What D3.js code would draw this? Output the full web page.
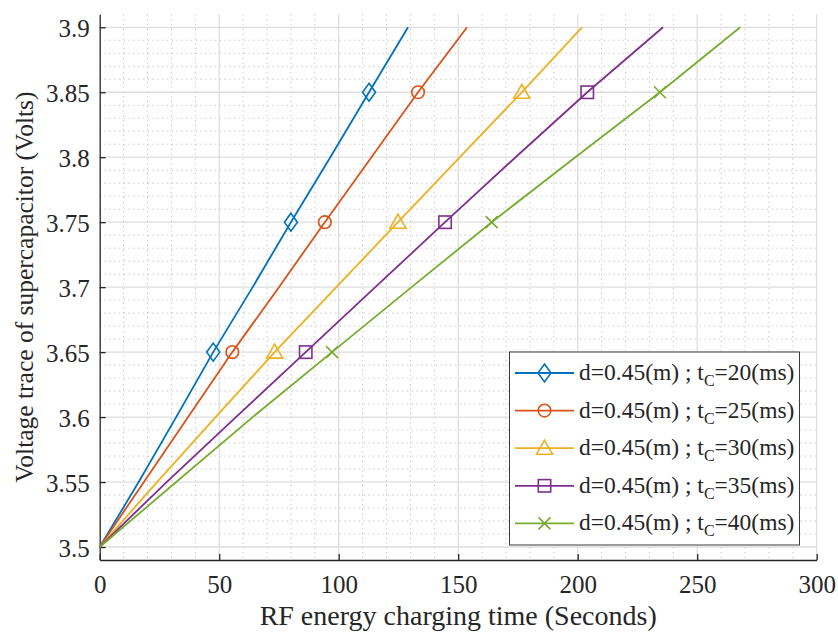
<!DOCTYPE html>
<html>
<head>
<meta charset="utf-8">
<script src="https://cdn.jsdelivr.net/npm/d3@7"></script>
<style>
  body { margin: 0; background: #fff; }
  text { font-family: "Liberation Serif", "DejaVu Serif", serif; fill: #262626; }
</style>
</head>
<body>
<div id="chart"></div>
<script>
// voltage levels shared by every series
const voltage = [3.5, 3.55, 3.6, 3.65, 3.7, 3.75, 3.8, 3.85, 3.9];
// charging time (s), one array per t_C
const timeTc20 = [0, 16.3, 32, 47.5, 64, 80, 96.5, 112.7, 129];
const timeTc25 = [0, 18.5, 37, 55.5, 75, 94.2, 113.7, 133.2, 153.7];
const timeTc30 = [0, 24, 48.5, 73.2, 99, 124.8, 150.7, 176.6, 201.8];
const timeTc35 = [0, 28, 57, 86.2, 115.3, 144.5, 174, 204, 235.7];
const timeTc40 = [0, 32, 64, 97.2, 130.5, 164, 199, 234.4, 268];
const tcValues = ['20', '25', '30', '35', '40'];
const markerIdx = [3, 5, 7];

const xTicks = [0, 50, 100, 150, 200, 250, 300];
const yTicks = [3.5, 3.55, 3.6, 3.65, 3.7, 3.75, 3.8, 3.85, 3.9];

const series = [
  { t: timeTc20, color: '#0072BD', marker: 'diamond' },
  { t: timeTc25, color: '#D95319', marker: 'circle' },
  { t: timeTc30, color: '#EDB120', marker: 'triangle' },
  { t: timeTc35, color: '#7E2F8E', marker: 'square' },
  { t: timeTc40, color: '#77AC30', marker: 'cross' }
];

const width = 838, height = 635;
const pLeft = 99.7, pRight = 816.7, pTop = 14.3, pBottom = 560;
const serif = '"Liberation Serif", "Times New Roman", serif';

const svg = d3.select('#chart').append('svg')
  .attr('width', width)
  .attr('height', height);

const x = d3.scaleLinear().domain([0, 300]).range([pLeft, pRight]);
const y = d3.scaleLinear().domain([3.49, 3.91]).range([pBottom, pTop]);

// grid, minor dotted first
const grid = svg.append('g');
grid.selectAll('.minx')
  .data(d3.range(10, 300, 10).filter(d => d % 50 !== 0))
  .enter().append('line')
  .attr('x1', d => x(d)).attr('x2', d => x(d))
  .attr('y1', pTop).attr('y2', pBottom)
  .attr('stroke', '#c4c4c4').attr('stroke-width', 1)
  .attr('stroke-dasharray', '1.3,3.5');
grid.selectAll('.miny')
  .data(d3.range(1, 42).map(i => +(3.49 + i * 0.01).toFixed(2)).filter(d => Math.round(d * 100) % 5 !== 0))
  .enter().append('line')
  .attr('x1', pLeft).attr('x2', pRight)
  .attr('y1', d => y(d)).attr('y2', d => y(d))
  .attr('stroke', '#c4c4c4').attr('stroke-width', 1)
  .attr('stroke-dasharray', '1.3,3.5');
grid.selectAll('.majx')
  .data(xTicks.slice(1))
  .enter().append('line')
  .attr('x1', d => x(d)).attr('x2', d => x(d))
  .attr('y1', pTop).attr('y2', pBottom)
  .attr('stroke', '#dedede').attr('stroke-width', 1.3);
grid.selectAll('.majy')
  .data(yTicks)
  .enter().append('line')
  .attr('x1', pLeft).attr('x2', pRight)
  .attr('y1', d => y(d)).attr('y2', d => y(d))
  .attr('stroke', '#dedede').attr('stroke-width', 1.3);

// axes
const xAxis = d3.axisBottom(x).tickValues(xTicks).tickSizeInner(-6).tickSizeOuter(0);
const yAxis = d3.axisLeft(y).tickValues(yTicks).tickSizeInner(-6).tickSizeOuter(0)
  .tickFormat(d => d3.format('')(d));

const gx = svg.append('g').attr('transform', `translate(0,${pBottom})`).call(xAxis);
const gy = svg.append('g').attr('transform', `translate(${pLeft},0)`).call(yAxis);
[gx, gy].forEach(g => {
  g.attr('font-family', null).attr('font-size', null);
  g.select('.domain').attr('stroke', '#262626').attr('stroke-width', 1.3);
  g.selectAll('.tick line').attr('stroke', '#262626').attr('stroke-width', 1.3);
  g.selectAll('.tick text')
    .style('font-family', serif).style('font-size', '25px').style('fill', '#262626');
});
gx.selectAll('.tick text').attr('y', 33).attr('dy', 0);
gy.selectAll('.tick text').attr('x', -10).attr('dy', '0.37em');

svg.append('text')
  .attr('x', (pLeft + pRight) / 2).attr('y', 625)
  .attr('text-anchor', 'middle')
  .style('font-family', serif).style('font-size', '28px')
  .text('RF energy charging time (Seconds)');
svg.append('text')
  .attr('transform', `translate(33,${(pTop + pBottom) / 2}) rotate(-90)`)
  .attr('text-anchor', 'middle')
  .style('font-family', serif).style('font-size', '25.5px')
  .text('Voltage trace of supercapacitor (Volts)');

// marker shapes
function drawMarker(g, type, cx, cy, color) {
  const s = 6;
  if (type === 'diamond') {
    g.append('path').attr('d', `M${cx},${cy - 9}L${cx + 6.5},${cy}L${cx},${cy + 9}L${cx - 6.5},${cy}Z`)
      .attr('fill', 'none').attr('stroke', color).attr('stroke-width', 1.6);
  } else if (type === 'circle') {
    g.append('circle').attr('cx', cx).attr('cy', cy).attr('r', 6.3)
      .attr('fill', 'none').attr('stroke', color).attr('stroke-width', 1.6);
  } else if (type === 'triangle') {
    g.append('path').attr('d', `M${cx},${cy - 8}L${cx + 8},${cy + 6}L${cx - 8},${cy + 6}Z`)
      .attr('fill', 'none').attr('stroke', color).attr('stroke-width', 1.6);
  } else if (type === 'square') {
    g.append('rect').attr('x', cx - 6.2).attr('y', cy - 6.2).attr('width', 12.4).attr('height', 12.4)
      .attr('fill', 'none').attr('stroke', color).attr('stroke-width', 1.6);
  } else {
    g.append('path').attr('d', `M${cx - s},${cy - s}L${cx + s},${cy + s}M${cx - s},${cy + s}L${cx + s},${cy - s}`)
      .attr('fill', 'none').attr('stroke', color).attr('stroke-width', 1.6);
  }
}

const line = d3.line()
  .x(d => x(d[0]))
  .y(d => y(d[1]));

const plot = svg.append('g');
series.forEach(s => {
  const pts = s.t.map((t, i) => [t, voltage[i]]);
  plot.append('path')
    .attr('d', line(pts))
    .attr('fill', 'none')
    .attr('stroke', s.color)
    .attr('stroke-width', 1.8);
  markerIdx.forEach(i => drawMarker(plot, s.marker, x(pts[i][0]), y(pts[i][1]), s.color));
});

// legend
const lg = svg.append('g');
lg.append('rect')
  .attr('x', 509.5).attr('y', 352).attr('width', 290).attr('height', 193)
  .attr('fill', '#fff').attr('stroke', '#3a3a3a').attr('stroke-width', 1);
series.forEach((s, i) => {
  const cy = 373 + i * 37.6;
  lg.append('line').attr('x1', 515).attr('x2', 574).attr('y1', cy).attr('y2', cy)
    .attr('stroke', s.color).attr('stroke-width', 1.8);
  drawMarker(lg, s.marker, 544.5, cy, s.color);
  const t = lg.append('text').attr('x', 579).attr('y', cy + 7)
    .style('font-family', serif).style('font-size', '23.5px');
  t.append('tspan').text('d=0.45(m) ; t');
  t.append('tspan').style('font-size', '16px').attr('dy', 6).text('C');
  t.append('tspan').attr('dy', -6).text(`=${tcValues[i]}(ms)`);
});
</script>
</body>
</html>
